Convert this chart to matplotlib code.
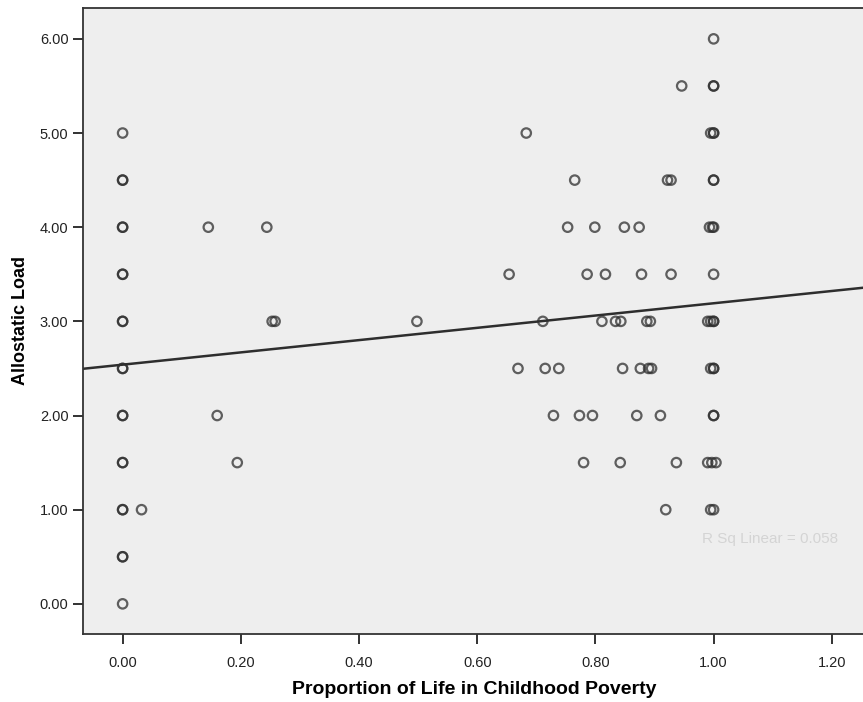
import matplotlib
matplotlib.use("Agg")
import matplotlib.pyplot as plt
import numpy as np

plt.rcParams['font.family'] = ['Liberation Sans', 'DejaVu Sans']

# children who never lived in poverty (x = 0), repeated values drawn darker
zero_y = [0.0, 0.5, 0.5, 1.0, 1.0, 1.5, 1.5, 2.0, 2.0, 2.5, 2.5,
          3.0, 3.0, 3.5, 3.5, 4.0, 4.0, 4.5, 4.5, 5.0]

# the rest, as (proportion, load)
prop = [0.032, 0.145, 0.244, 0.253, 0.258, 0.16, 0.194, 0.498,
        1.0,
        0.946, 1.0, 1.0,
        0.683, 0.995, 1.0, 1.0,
        0.765, 0.922, 0.928, 1.0, 1.0,
        0.753, 0.799, 0.849, 0.874, 0.993, 0.998, 1.0,
        0.654, 0.786, 0.817, 0.878, 0.928, 1.0,
        0.711, 0.811, 0.834, 0.843, 0.887, 0.893, 0.99, 0.995, 1.0, 1.0,
        0.669, 0.715, 0.738, 0.846, 0.876, 0.89, 0.895, 0.995, 1.0, 1.0,
        0.729, 0.773, 0.795, 0.870, 0.910, 1.0, 1.0,
        0.780, 0.842, 0.937, 0.99, 0.997, 1.004,
        0.919, 0.995, 1.0]
load = [1.0, 4.0, 4.0, 3.0, 3.0, 2.0, 1.5, 3.0,
        6.0,
        5.5, 5.5, 5.5,
        5.0, 5.0, 5.0, 5.0,
        4.5, 4.5, 4.5, 4.5, 4.5,
        4.0, 4.0, 4.0, 4.0, 4.0, 4.0, 4.0,
        3.5, 3.5, 3.5, 3.5, 3.5, 3.5,
        3.0, 3.0, 3.0, 3.0, 3.0, 3.0, 3.0, 3.0, 3.0, 3.0,
        2.5, 2.5, 2.5, 2.5, 2.5, 2.5, 2.5, 2.5, 2.5, 2.5,
        2.0, 2.0, 2.0, 2.0, 2.0, 2.0, 2.0,
        1.5, 1.5, 1.5, 1.5, 1.5, 1.5,
        1.0, 1.0, 1.0]

# linear fit as printed by SPSS
intercept = 2.54
slope = 0.652
r_sq = 0.058

x = np.array([0.0] * len(zero_y) + prop)
y = np.array(zero_y + load)

fig = plt.figure(figsize=(8.63, 7.02), dpi=100)
ax = fig.add_axes([0.0962, 0.0969, 0.906, 0.892])
ax.set_facecolor('#eeeeee')

ax.scatter(x, y, s=46, facecolors='none', edgecolors=(0.18, 0.18, 0.18, 0.75),
           linewidths=1.6, zorder=3)

ax.set_xlim(-0.067, 1.256)
ax.set_ylim(-0.32, 6.33)
xx = np.array(ax.get_xlim())
ax.plot(xx, intercept + slope * xx, color='#2e2e2e', lw=1.8, zorder=2)

ax.text(0.98, 0.69, f'R Sq Linear = {r_sq:.3f}', fontsize=11,
        color='#d4d4d4', va='center', zorder=1)

ax.set_xticks(np.arange(0, 1.21, 0.2))
ax.set_yticks(np.arange(0, 6.01, 1.0))
ax.set_xticklabels([f'{v:.2f}' for v in np.arange(0, 1.21, 0.2)])
ax.set_yticklabels([f'{v:.2f}' for v in np.arange(0, 6.01, 1.0)])
ax.tick_params(direction='out', length=7, width=1.3, labelsize=10.5,
               colors='#222222')
ax.tick_params(axis='x', pad=9)

for side in ['left', 'bottom', 'top']:
    ax.spines[side].set_linewidth(1.3)
    ax.spines[side].set_color('#333333')
ax.spines['right'].set_visible(False)

ax.set_xlabel('Proportion of Life in Childhood Poverty', fontsize=14,
              fontweight='bold', labelpad=8)
ax.set_ylabel('Allostatic Load', fontsize=13, fontweight='bold', labelpad=8)

fig.savefig('out.png', dpi=100)
